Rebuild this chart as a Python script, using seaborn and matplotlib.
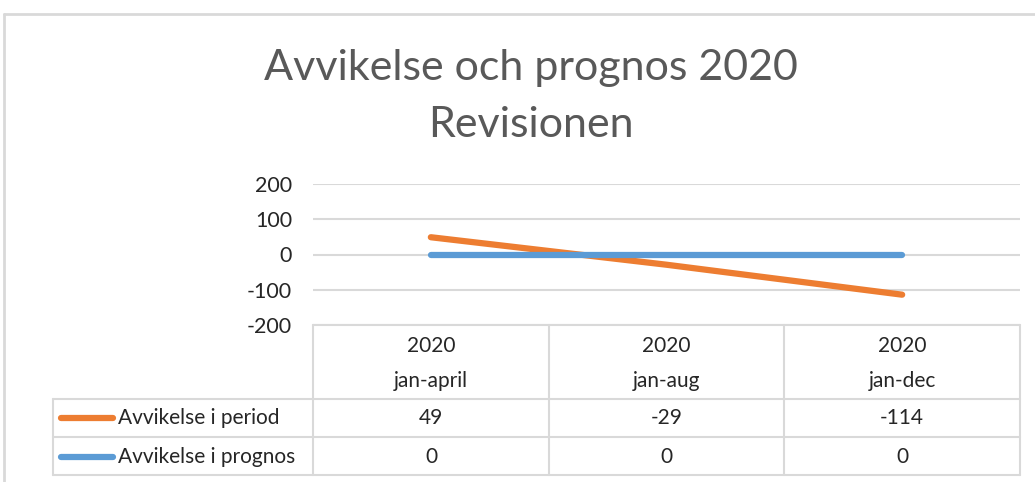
import matplotlib
matplotlib.use("Agg")
import matplotlib.pyplot as plt
import seaborn as sns
import pandas as pd
from matplotlib.lines import Line2D

# ---- data ----
years = ["2020", "2020", "2020"]
periods = ["jan-april", "jan-aug", "jan-dec"]
series_names = ["Avvikelse i period", "Avvikelse i prognos"]
avvikelse_period = [49, -29, -114]
avvikelse_prognos = [0, 0, 0]
y_ticks = [-200, -100, 0, 100, 200]
title = "Avvikelse och prognos 2020\nRevisionen"

colors = ["#ED7D31", "#5B9BD5"]
grid_c = "#D9D9D9"
text_c = "#262626"

sns.set_theme(style="white")
plt.rcParams["font.family"] = ["Lato", "DejaVu Sans"]

W, H = 1035, 482
fig = plt.figure(figsize=(W / 100, H / 100), dpi=100)

# main plot axes in pixel layout
x0, x1 = 313, 1020
ytop, ybot = 184, 325
ax = fig.add_axes([x0 / W, 1 - ybot / H, (x1 - x0) / W, (ybot - ytop) / H])

df = pd.DataFrame({
    "pos": list(range(len(periods))) * 2,
    "value": avvikelse_period + avvikelse_prognos,
    "series": [series_names[0]] * len(periods) + [series_names[1]] * len(periods),
})
sns.lineplot(data=df, x="pos", y="value", hue="series", palette=colors,
             linewidth=4.5, ax=ax, legend=False, sort=False)
for ln in ax.get_lines():
    ln.set_solid_capstyle("round")

ax.set_xlim(-0.5, len(periods) - 0.5)
ax.set_ylim(y_ticks[0], y_ticks[-1])
ax.set_yticks(y_ticks)
ax.set_yticklabels([str(t) for t in y_ticks], fontsize=15.5, color=text_c)
ax.tick_params(axis="y", length=0, pad=15)
ax.set_xticks([])
ax.set_xlabel("")
ax.set_ylabel("")
for s in ax.spines.values():
    s.set_visible(False)
ax.yaxis.grid(True, color=grid_c, linewidth=1.5)
ax.set_axisbelow(True)
ax.patch.set_alpha(0)

# overlay axes in pixel coordinates for the frame, title and data table
ov = fig.add_axes([0, 0, 1, 1], zorder=-1)
ov.set_xlim(0, W)
ov.set_ylim(H, 0)
ov.axis("off")

# outer chart border
ov.plot([4, W], [14, 14], color=grid_c, lw=2)
ov.plot([4, 4], [14, H], color=grid_c, lw=2)

ov.text(531, 68, title.split("\n")[0], ha="center", va="center",
        fontsize=31, color="#595959", fontweight="normal")
ov.text(531, 125, title.split("\n")[1], ha="center", va="center",
        fontsize=31, color="#595959", fontweight="normal")

# table geometry
cols = [313, 549, 784, 1020]
t_top, h_mid, r1, r2 = 325, 399, 437, 475
leg_left = 53
lw_t = 1.5
# verticals
for c in cols:
    ov.plot([c, c], [t_top, r2], color=grid_c, lw=lw_t)
ov.plot([leg_left, leg_left], [h_mid, r2], color=grid_c, lw=lw_t)
# horizontals
ov.plot([cols[0], cols[-1]], [t_top, t_top], color=grid_c, lw=lw_t)
for yy in [h_mid, r1, r2]:
    ov.plot([leg_left, cols[-1]], [yy, yy], color=grid_c, lw=lw_t)

fs_t = 15
# header
for i in range(len(periods)):
    cx = (cols[i] + cols[i + 1]) / 2
    ov.text(cx, 346, years[i], ha="center", va="center", fontsize=fs_t, color=text_c)
    ov.text(cx, 381, periods[i], ha="center", va="center", fontsize=fs_t, color=text_c)

rows_y = [418, 457]
for r, (name, vals) in enumerate(zip(series_names, [avvikelse_period, avvikelse_prognos])):
    ov.add_line(Line2D([61, 113], [rows_y[r], rows_y[r]], color=colors[r], lw=4.5,
                       solid_capstyle="round"))
    ov.text(118, rows_y[r], name, ha="left", va="center", fontsize=fs_t, color=text_c)
    for i, v in enumerate(vals):
        cx = (cols[i] + cols[i + 1]) / 2
        ov.text(cx, rows_y[r], str(v), ha="center", va="center", fontsize=fs_t, color=text_c)

fig.savefig("out.png", dpi=100, facecolor="white")
